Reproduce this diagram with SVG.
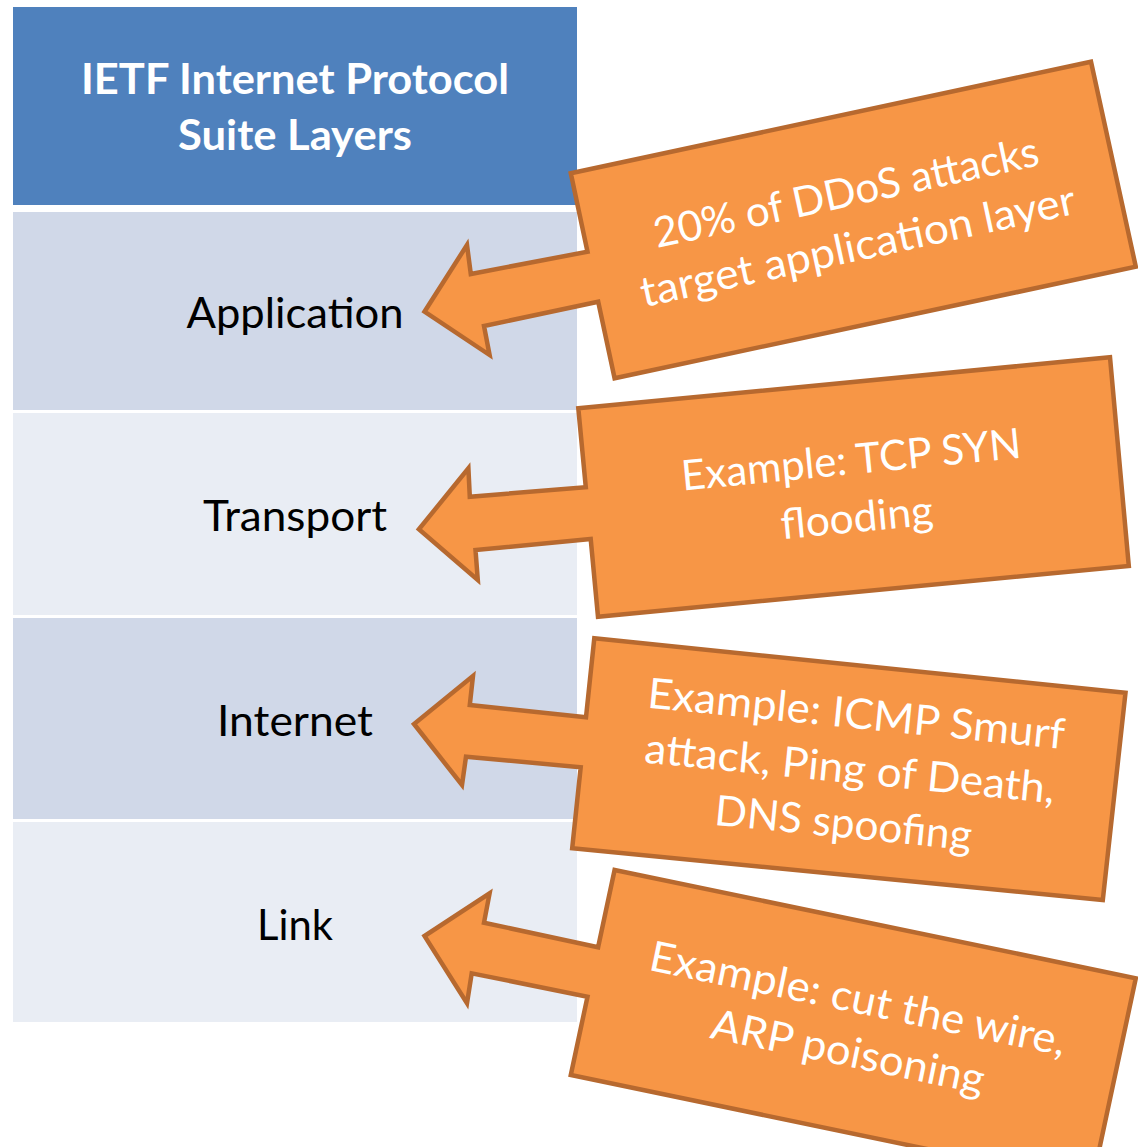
<svg xmlns="http://www.w3.org/2000/svg" width="1138" height="1147" viewBox="0 0 1138 1147">
<style>
.hdr{fill:#4F81BD}
.rowA{fill:#D0D8E8}
.rowB{fill:#E9EDF4}
.t{font-family:Lato,"Open Sans","Liberation Sans",sans-serif;font-size:42px;text-anchor:middle}
.th{font-weight:bold;fill:#FFFFFF}
.tl{fill:#000000}
.co{fill:#F79646;stroke:#B7692F;stroke-width:4.5;stroke-linejoin:miter}
.ct{fill:#FFFFFF}
</style>
<rect x="0" y="0" width="1138" height="1147" fill="#FFFFFF"/>
<g id="header">
<rect class="hdr" x="13" y="7" width="564" height="198"/>
<text class="t th" x="295" y="94" textLength="428" lengthAdjust="spacingAndGlyphs">IETF Internet Protocol</text>
<text class="t th" x="295" y="150" textLength="234" lengthAdjust="spacingAndGlyphs">Suite Layers</text>
</g>
<g id="layer-application">
<rect class="rowA" x="13" y="212" width="564" height="198"/>
<text class="t tl" x="295" y="328" textLength="217" lengthAdjust="spacingAndGlyphs">Application</text>
</g>
<g id="layer-transport">
<rect class="rowB" x="13" y="413" width="564" height="202"/>
<text class="t tl" x="295" y="531" textLength="184" lengthAdjust="spacingAndGlyphs">Transport</text>
</g>
<g id="layer-internet">
<rect class="rowA" x="13" y="618" width="564" height="201"/>
<text class="t tl" x="295" y="736" textLength="156" lengthAdjust="spacingAndGlyphs">Internet</text>
</g>
<g id="layer-link">
<rect class="rowB" x="13" y="822" width="564" height="200"/>
<text class="t tl" x="295" y="940" textLength="76" lengthAdjust="spacingAndGlyphs">Link</text>
</g>
<g id="connectors"></g>
<g id="callout-application">
<polygon class="co" points="570.8,173.3 1091,61.7 1135.8,266.7 614.6,378.3 598.2,301.7 484,326 489.6,355 424.5,311.7 467,245 470.8,274 587.5,251.7"/>
<g transform="translate(853,220) rotate(-12.2)">
<text class="t ct" x="-1" y="-14" textLength="393" lengthAdjust="spacingAndGlyphs">20% of DDoS attacks</text>
<text class="t ct" x="-1" y="41" textLength="444" lengthAdjust="spacingAndGlyphs">target application layer</text>
</g>
</g>
<g id="callout-transport">
<polygon class="co" points="578.3,408.3 1110,357.3 1128.8,566 598,616.7 590.7,539 475.5,550 477.8,580 418.9,529.3 468.4,468.3 469.8,496.7 585.8,487.3"/>
<g transform="translate(853.8,487.1) rotate(-5.5)">
<text class="t ct" x="0" y="-13" textLength="341" lengthAdjust="spacingAndGlyphs">Example: TCP SYN</text>
<text class="t ct" x="0" y="45" textLength="153" lengthAdjust="spacingAndGlyphs">flooding</text>
</g>
</g>
<g id="callout-internet">
<polygon class="co" points="594.3,638.3 1125.5,692.7 1102.8,900 572.2,848.3 580.7,767.3 466,756.7 462,785 414,724 473,676 469.8,705 586,717.3"/>
<g transform="translate(848.7,769.8) rotate(5.7)">
<text class="t ct" x="2" y="-42" textLength="419" lengthAdjust="spacingAndGlyphs">Example: ICMP Smurf</text>
<text class="t ct" x="1" y="13" textLength="412" lengthAdjust="spacingAndGlyphs">attack, Ping of Death,</text>
<text class="t ct" x="0" y="68" textLength="258" lengthAdjust="spacingAndGlyphs">DNS spoofing</text>
</g>
</g>
<g id="callout-link">
<polygon class="co" points="614.6,870 1135.8,978.3 1092,1183.3 570.8,1075 587.5,996.7 471.7,973.3 467,1003.3 424.5,936 489.6,893.3 484,922.7 598.1,947.3"/>
<g transform="translate(853.3,1026.7) rotate(11.7)">
<text class="t ct" x="-1" y="-14" textLength="424" lengthAdjust="spacingAndGlyphs">Example: cut the wire,</text>
<text class="t ct" x="0" y="40" textLength="278" lengthAdjust="spacingAndGlyphs">ARP poisoning</text>
</g>
</g>
</svg>
